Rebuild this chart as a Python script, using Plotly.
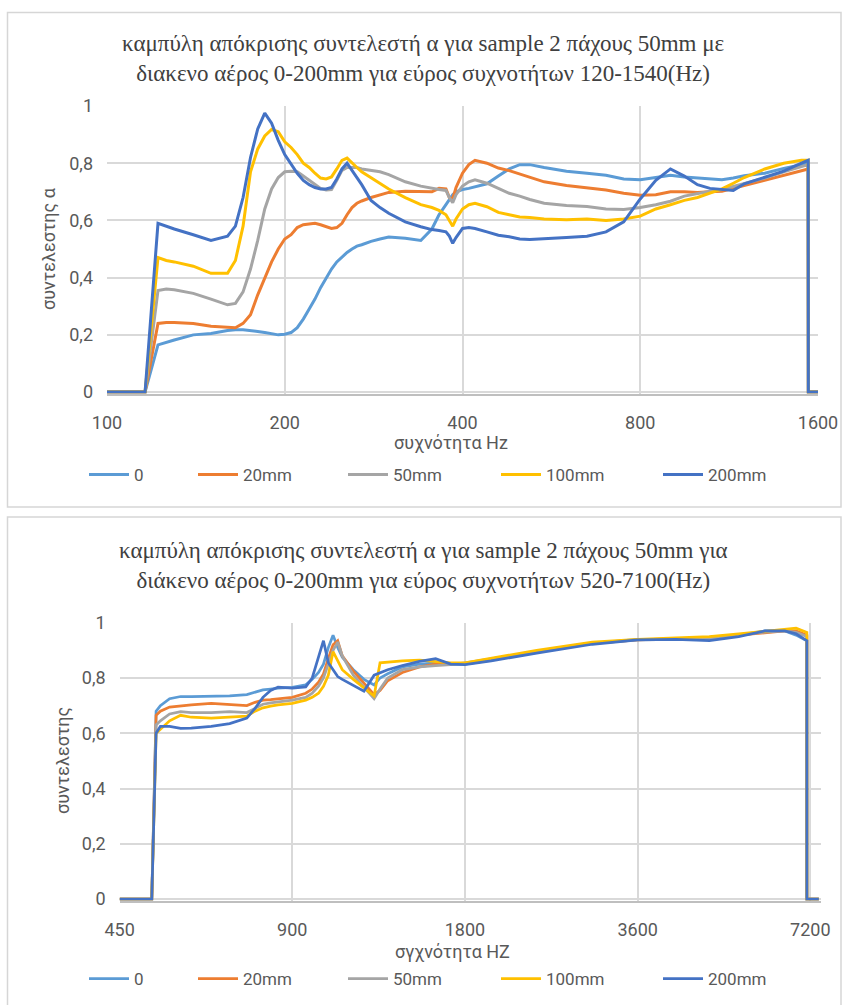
import math
import plotly.graph_objects as go

W, H = 844, 1005

series_names = ["0", "20mm", "50mm", "100mm", "200mm"]
series_colors = ["#5B9BD5", "#ED7D31", "#A5A5A5", "#FFC000", "#4472C4"]

# ---- 120-1540 Hz measurement ----
freq_low = [100, 116, 122, 126, 130, 140, 150, 160, 165, 170,
            175, 180, 185, 190, 195, 200, 205, 210, 215, 220,
            225, 230, 235, 240, 245, 250, 255, 260, 265, 270,
            280, 290, 300, 320, 340, 355, 365, 375, 380, 385,
            390, 400, 410, 420, 440, 460, 480, 500, 520, 550,
            600, 650, 700, 750, 800, 850, 900, 950, 1000, 1050,
            1100, 1150, 1200, 1300, 1400, 1500, 1540, 1541, 1600]

alpha_low_0 = [0, 0, 0.165, 0.175, 0.182, 0.20, 0.205, 0.215, 0.218, 0.218,
               0.216, 0.212, 0.208, 0.203, 0.20, 0.202, 0.208, 0.225, 0.255, 0.29,
               0.325, 0.365, 0.40, 0.43, 0.455, 0.472, 0.488, 0.50, 0.51, 0.515,
               0.527, 0.535, 0.542, 0.538, 0.53, 0.57, 0.62, 0.655, 0.672, 0.69,
               0.70, 0.708, 0.712, 0.718, 0.728, 0.755, 0.78, 0.795, 0.795, 0.785,
               0.772, 0.765, 0.758, 0.745, 0.742, 0.75, 0.758, 0.752, 0.748, 0.745,
               0.742, 0.748, 0.756, 0.765, 0.782, 0.795, 0.80, 0, 0]

alpha_low_20 = [0, 0, 0.24, 0.243, 0.243, 0.24, 0.23, 0.225, 0.225, 0.24,
                0.27, 0.34, 0.40, 0.455, 0.50, 0.535, 0.55, 0.575, 0.585, 0.588,
                0.59, 0.585, 0.578, 0.572, 0.575, 0.59, 0.62, 0.645, 0.66, 0.668,
                0.68, 0.69, 0.698, 0.702, 0.70, 0.70, 0.712, 0.71, 0.68, 0.675,
                0.715, 0.765, 0.795, 0.81, 0.80, 0.783, 0.774, 0.762, 0.752, 0.735,
                0.722, 0.715, 0.706, 0.695, 0.688, 0.69, 0.70, 0.70, 0.698, 0.70,
                0.702, 0.712, 0.722, 0.742, 0.76, 0.775, 0.78, 0, 0]

alpha_low_50 = [0, 0, 0.355, 0.36, 0.358, 0.345, 0.325, 0.305, 0.31, 0.35,
                0.43, 0.53, 0.64, 0.71, 0.75, 0.77, 0.772, 0.77, 0.755, 0.74,
                0.725, 0.712, 0.706, 0.708, 0.74, 0.775, 0.785, 0.786, 0.785, 0.78,
                0.775, 0.77, 0.76, 0.735, 0.72, 0.712, 0.708, 0.705, 0.68, 0.662,
                0.69, 0.72, 0.735, 0.742, 0.73, 0.712, 0.695, 0.685, 0.673, 0.66,
                0.652, 0.649, 0.64, 0.638, 0.645, 0.655, 0.667, 0.685, 0.695, 0.702,
                0.708, 0.718, 0.728, 0.748, 0.77, 0.788, 0.795, 0, 0]

alpha_low_100 = [0, 0, 0.47, 0.46, 0.455, 0.44, 0.415, 0.415, 0.46, 0.58,
                 0.77, 0.85, 0.895, 0.918, 0.91, 0.875, 0.855, 0.83, 0.80, 0.785,
                 0.765, 0.748, 0.745, 0.752, 0.78, 0.81, 0.818, 0.80, 0.785, 0.77,
                 0.75, 0.73, 0.71, 0.68, 0.655, 0.645, 0.635, 0.62, 0.60, 0.58,
                 0.605, 0.64, 0.655, 0.66, 0.648, 0.628, 0.62, 0.612, 0.61, 0.605,
                 0.602, 0.605, 0.60, 0.605, 0.615, 0.64, 0.655, 0.67, 0.68, 0.695,
                 0.71, 0.73, 0.75, 0.78, 0.80, 0.81, 0.81, 0, 0]

alpha_low_200 = [0, 0, 0.59, 0.58, 0.57, 0.55, 0.53, 0.545, 0.58, 0.68,
                 0.82, 0.92, 0.975, 0.94, 0.88, 0.83, 0.795, 0.765, 0.74, 0.725,
                 0.715, 0.71, 0.71, 0.715, 0.745, 0.78, 0.80, 0.775, 0.75, 0.725,
                 0.67, 0.645, 0.625, 0.595, 0.578, 0.568, 0.565, 0.56, 0.545, 0.52,
                 0.54, 0.572, 0.575, 0.572, 0.56, 0.548, 0.543, 0.535, 0.533, 0.535,
                 0.54, 0.545, 0.56, 0.595, 0.675, 0.74, 0.78, 0.755, 0.725, 0.712,
                 0.708, 0.705, 0.728, 0.75, 0.772, 0.80, 0.81, 0, 0]

# ---- 520-7100 Hz measurement ----
freq_high = [450, 512, 521, 530, 550, 575, 600, 650, 700, 750,
             775, 800, 825, 850, 900, 950, 975, 1000, 1020, 1040,
             1060, 1080, 1100, 1150, 1200, 1250, 1280, 1320, 1400, 1500,
             1600, 1700, 1800, 2000, 2400, 3000, 3600, 4200, 4800, 5400,
             6000, 6500, 6800, 7100, 7101, 7450]

alpha_high_0 = [0, 0, 0.68, 0.70, 0.725, 0.733, 0.733, 0.733, 0.735, 0.74,
                0.75, 0.757, 0.76, 0.763, 0.766, 0.775, 0.795, 0.82, 0.85, 0.91,
                0.955, 0.91, 0.875, 0.83, 0.795, 0.775, 0.80, 0.815, 0.84, 0.85,
                0.855, 0.85, 0.85, 0.865, 0.895, 0.925, 0.94, 0.94, 0.94, 0.955,
                0.97, 0.97, 0.955, 0.935, 0, 0]

alpha_high_20 = [0, 0, 0.665, 0.68, 0.695, 0.70, 0.703, 0.708, 0.705, 0.70,
                 0.712, 0.72, 0.722, 0.725, 0.73, 0.745, 0.76, 0.785, 0.815, 0.87,
                 0.92, 0.935, 0.88, 0.825, 0.78, 0.74, 0.755, 0.79, 0.82, 0.84,
                 0.85, 0.85, 0.852, 0.867, 0.895, 0.925, 0.938, 0.942, 0.945, 0.955,
                 0.965, 0.97, 0.97, 0.955, 0, 0]

alpha_high_50 = [0, 0, 0.63, 0.645, 0.67, 0.678, 0.675, 0.675, 0.678, 0.675,
                 0.69, 0.705, 0.71, 0.713, 0.72, 0.73, 0.745, 0.77, 0.80, 0.85,
                 0.90, 0.93, 0.88, 0.81, 0.765, 0.725, 0.76, 0.80, 0.83, 0.84,
                 0.845, 0.848, 0.855, 0.87, 0.895, 0.925, 0.938, 0.94, 0.943, 0.955,
                 0.966, 0.97, 0.965, 0.95, 0, 0]

alpha_high_100 = [0, 0, 0.60, 0.615, 0.645, 0.665, 0.658, 0.655, 0.66, 0.662,
                  0.68, 0.692, 0.698, 0.703, 0.708, 0.72, 0.73, 0.745, 0.77, 0.81,
                  0.895, 0.86, 0.83, 0.795, 0.765, 0.735, 0.855, 0.858, 0.862, 0.865,
                  0.86, 0.855, 0.855, 0.872, 0.90, 0.93, 0.94, 0.945, 0.95, 0.96,
                  0.97, 0.975, 0.98, 0.965, 0, 0]

alpha_high_200 = [0, 0, 0.60, 0.625, 0.625, 0.618, 0.619, 0.625, 0.635, 0.655,
                  0.69, 0.73, 0.755, 0.767, 0.763, 0.768, 0.80, 0.88, 0.935, 0.855,
                  0.83, 0.805, 0.795, 0.772, 0.752, 0.81, 0.82, 0.83, 0.845, 0.86,
                  0.87, 0.85, 0.848, 0.862, 0.89, 0.922, 0.938, 0.94, 0.935, 0.95,
                  0.97, 0.97, 0.96, 0.935, 0, 0]

low_series = [alpha_low_0, alpha_low_20, alpha_low_50, alpha_low_100, alpha_low_200]
high_series = [alpha_high_0, alpha_high_20, alpha_high_50, alpha_high_100, alpha_high_200]

ticks_low = [100, 200, 400, 800, 1600]
ticks_high = [450, 900, 1800, 3600, 7200]
y_ticks = [0, 0.2, 0.4, 0.6, 0.8, 1]
y_ticktext = ["0", "0,2", "0,4", "0,6", "0,8", "1"]

title_low = ("καμπύλη απόκρισης συντελεστή α για sample 2 πάχους 50mm με<br>"
             "διακενο αέρος 0-200mm για εύρος συχνοτήτων 120-1540(Hz)")
title_high = ("καμπύλη απόκρισης συντελεστή α για sample 2 πάχους 50mm για<br>"
              "διάκενο αέρος 0-200mm για εύρος συχνοτήτων 520-7100(Hz)")

# legend entry widths (px) so the entries spread like the original layout
legend_widths = [54, 95, 98, 107, 60]

SANS = "Roboto, 'Open Sans', sans-serif"
SERIF = "'Liberation Serif', 'DejaVu Serif', serif"
TXT = "#595959"
GRID = "#D9D9D9"


def px(x):
    return x / W


def py(y):
    return 1 - y / H


fig = go.Figure()

for name, color, vals, lw in zip(series_names, series_colors, low_series, legend_widths):
    fig.add_trace(go.Scatter(
        x=freq_low, y=vals, mode="lines", name=name,
        line=dict(color=color, width=3),
        xaxis="x", yaxis="y", legend="legend", legendwidth=lw,
    ))

for name, color, vals, lw in zip(series_names, series_colors, high_series, legend_widths):
    fig.add_trace(go.Scatter(
        x=freq_high, y=vals, mode="lines", name=name,
        line=dict(color=color, width=2.75),
        xaxis="x2", yaxis="y2", legend="legend2", legendwidth=lw,
    ))

axis_common = dict(
    showgrid=True, gridcolor=GRID, gridwidth=1.5,
    zeroline=False, ticks="",
    tickfont=dict(family=SANS, size=18, color=TXT),
)

fig.update_layout(
    width=W, height=H,
    margin=dict(l=0, r=0, t=0, b=0, autoexpand=False),
    paper_bgcolor="white", plot_bgcolor="white",
    showlegend=True,
    xaxis=dict(
        type="log", domain=[px(107), px(818)],
        range=[math.log10(100), math.log10(1600)],
        tickvals=ticks_low, ticktext=[str(t) for t in ticks_low],
        showline=True, linecolor="#BFBFBF", linewidth=1.5,
        anchor="y", ticklabelstandoff=12, **axis_common,
    ),
    yaxis=dict(
        domain=[py(393.5), py(106)], range=[-0.005, 1.0],
        tickvals=y_ticks, ticktext=y_ticktext,
        anchor="x", ticklabelstandoff=13, **axis_common,
    ),
    xaxis2=dict(
        type="log", domain=[px(119.6), px(820.5)],
        range=[math.log10(450), math.log10(7500)],
        tickvals=ticks_high, ticktext=[str(t) for t in ticks_high],
        showline=True, linecolor="#BFBFBF", linewidth=1.5,
        anchor="y2", ticklabelstandoff=12, **axis_common,
    ),
    yaxis2=dict(
        domain=[py(900.5), py(622.7)], range=[-0.005, 1.0],
        tickvals=y_ticks, ticktext=y_ticktext,
        anchor="x2", ticklabelstandoff=13, **axis_common,
    ),
    legend=dict(
        orientation="h", x=px(84), xanchor="left", y=py(475), yanchor="middle",
        font=dict(family=SANS, size=17, color=TXT), bgcolor="rgba(0,0,0,0)",
        itemwidth=40,
    ),
    legend2=dict(
        orientation="h", x=px(84), xanchor="left", y=py(979), yanchor="middle",
        font=dict(family=SANS, size=17, color=TXT), bgcolor="rgba(0,0,0,0)",
        itemwidth=40,
    ),
)

annotations = [
    dict(text=title_low, x=px(423), y=py(58), xanchor="center", yanchor="middle",
         font=dict(family=SERIF, size=23, color="#404040")),
    dict(text=title_high, x=px(423), y=py(565), xanchor="center", yanchor="middle",
         font=dict(family=SERIF, size=23, color="#404040")),
    dict(text="συχνότητα Hz", x=px(451), y=py(443), xanchor="center", yanchor="middle",
         font=dict(family=SANS, size=18, color=TXT)),
    dict(text="συντελεστης α", x=px(48), y=py(249), xanchor="center", yanchor="middle",
         textangle=-90, font=dict(family=SANS, size=18, color=TXT)),
    dict(text="σγχνότητα HZ", x=px(452), y=py(951), xanchor="center", yanchor="middle",
         font=dict(family=SANS, size=18, color=TXT)),
    dict(text="συντελεστης", x=px(62), y=py(760), xanchor="center", yanchor="middle",
         textangle=-90, font=dict(family=SANS, size=18, color=TXT)),
]
for a in annotations:
    a.update(xref="paper", yref="paper", showarrow=False)
fig.update_layout(annotations=annotations)

# chart frames
frames = [(7.5, 12.5, 841, 507), (7.5, 517, 841, 1010)]
fig.update_layout(shapes=[
    dict(type="rect", xref="paper", yref="paper",
         x0=px(x0), x1=px(x1), y0=py(y1), y1=py(y0),
         line=dict(color="#D6D6D6", width=1.5), layer="below")
    for x0, y0, x1, y1 in frames
])

fig.write_html("out.html")
